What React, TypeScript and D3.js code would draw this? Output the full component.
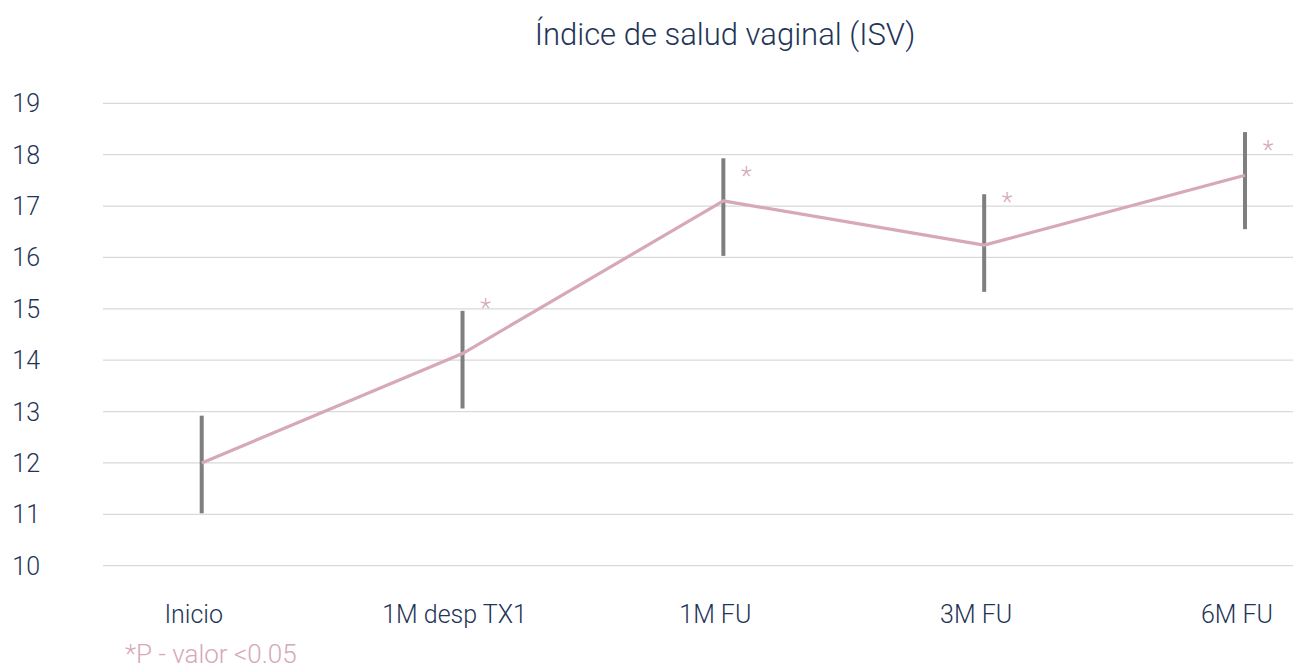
import React from "react";
import * as d3 from "d3";

const categories = ["Inicio", "1M desp TX1", "1M FU", "3M FU", "6M FU"];
const means = [12.0, 14.13, 17.1, 16.24, 17.6];
const lowerBounds = [11.02, 13.06, 16.03, 15.33, 16.55];
const upperBounds = [12.92, 14.96, 17.93, 17.23, 18.44];
const starLevels: (number | null)[] = [null, 15.09, 17.66, 17.15, 18.17];
const yTicks = [10, 11, 12, 13, 14, 15, 16, 17, 18, 19];
const title = "Índice de salud vaginal (ISV)";
const footnote = "*P - valor <0.05";

const W = 1293;
const H = 668;
const FONT = "Roboto, 'Liberation Sans', Arial, sans-serif";
const NAVY = "#1f3557";
const PINK = "#d6a8b8";

export default function App() {
  const x = d3.scalePoint<string>().domain(categories).range([201.7, 1245]);
  const y = d3.scaleLinear().domain([10, 19]).range([565.7, 103.3]);
  const line = d3
    .line<number>()
    .x((_, i) => x(categories[i]) as number)
    .y((d) => y(d));

  return (
    <svg
      width={W}
      height={H}
      style={{ position: "absolute", left: 0, top: 0, background: "#fff" }}
      fontFamily={FONT}
      fontWeight={300}
    >
      <text x={725} y={45} textAnchor="middle" fontSize={31} fill={NAVY}>
        {title}
      </text>
      {yTicks.map((t) => (
        <g key={t}>
          <line x1={103} x2={W} y1={y(t)} y2={y(t)} stroke="#d9d9d9" strokeWidth={1.2} />
          <text x={40} y={y(t) + 9} textAnchor="end" fontSize={25} fill={NAVY}>
            {t}
          </text>
        </g>
      ))}
      {categories.map((c, i) => (
        <line
          key={"e" + c}
          x1={x(c)}
          x2={x(c)}
          y1={y(lowerBounds[i])}
          y2={y(upperBounds[i])}
          stroke="#7f7f7f"
          strokeWidth={4}
        />
      ))}
      <path d={line(means) || ""} fill="none" stroke={PINK} strokeWidth={3.2} strokeLinejoin="round" />
      {categories.map((c, i) =>
        starLevels[i] == null ? null : (
          <text
            key={"s" + c}
            x={(x(c) as number) + 23}
            y={y(starLevels[i] as number) + 13}
            textAnchor="middle"
            fontSize={25}
            fill={PINK}
          >
            *
          </text>
        )
      )}
      {categories.map((c) => (
        <text key={"l" + c} x={(x(c) as number) - 8} y={623} textAnchor="middle" fontSize={25} fill={NAVY}>
          {c}
        </text>
      ))}
      <text x={125} y={663} fontSize={26} fill={PINK}>
        {footnote}
      </text>
    </svg>
  );
}
